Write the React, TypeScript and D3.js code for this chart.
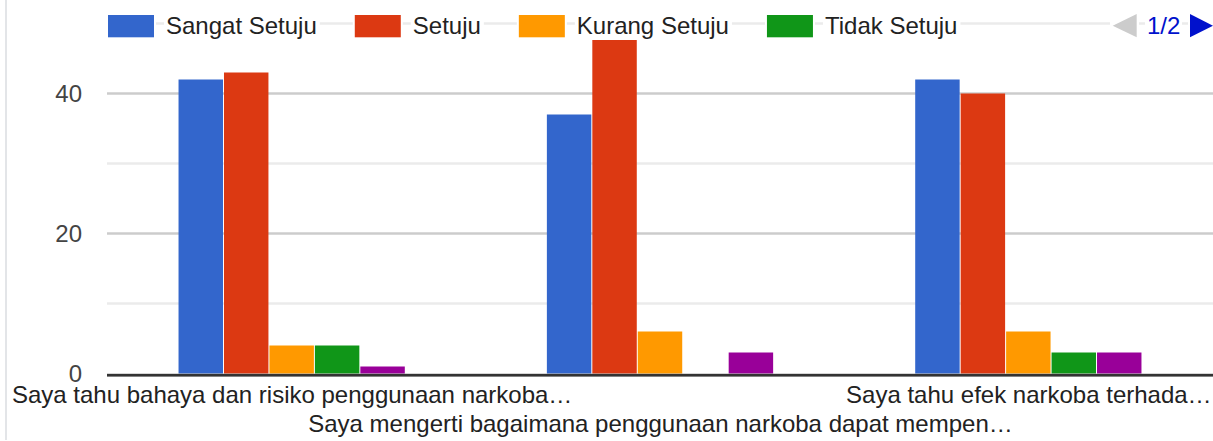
import React from "react";
import * as d3 from "d3";

const categories = [
  "Saya tahu bahaya dan risiko penggunaan narkoba…",
  "Saya mengerti bagaimana penggunaan narkoba dapat mempen…",
  "Saya tahu efek narkoba terhada…",
];
const seriesNames = ["Sangat Setuju", "Setuju", "Kurang Setuju", "Tidak Setuju", "Sangat Tidak Setuju"];
const seriesColors = ["#3366cc", "#dc3912", "#ff9900", "#109618", "#990099"];
const sangatSetuju = [42, 37, 42];
const setuju = [43, 48, 40];
const kurangSetuju = [4, 6, 6];
const tidakSetuju = [4, 0, 3];
const sangatTidakSetuju = [1, 3, 3];
const majorTicks = [0, 20, 40];
const minorTicks = [10, 30, 50];
const legendShown = 4;
const pagerLabel = "1/2";

const W = 1213;
const H = 441;
const FONT = "'Liberation Sans', Arial, sans-serif";
const FS = 24;

function measure(text: string): number {
  const c = document.createElement("canvas");
  const ctx = c.getContext("2d")!;
  ctx.font = `${FS}px ${FONT}`;
  return ctx.measureText(text).width;
}

export default function App() {
  const series = [sangatSetuju, setuju, kurangSetuju, tidakSetuju, sangatTidakSetuju];
  const y = d3.scaleLinear().domain([0, 50]).range([373.5, 23.5]);
  const x0 = d3.scaleBand<string>().domain(categories).range([108, 1213]).padding(0);
  const groupW = x0.bandwidth() * 0.617;
  const x1 = d3
    .scaleBand<number>()
    .domain(series.map((_, i) => i))
    .range([0, groupW])
    .padding(0);

  // legend layout
  const legendItems: { sx: number; tx: number; tw: number; name: string; color: string }[] = [];
  let cx = 108;
  for (let i = 0; i < legendShown; i++) {
    const tw = measure(seriesNames[i]);
    legendItems.push({ sx: cx, tx: cx + 58, tw, name: seriesNames[i], color: seriesColors[i] });
    cx = cx + 58 + tw + 38;
  }

  return (
    <svg
      width={W}
      height={H}
      style={{ position: "fixed", left: 0, top: 0, background: "#fff" }}
      fontFamily={FONT}
    >
      <rect x={0} y={0} width={W} height={H} fill="#fff" />
      <line x1={6} x2={6} y1={0} y2={440} stroke="#dadce0" strokeWidth={1.5} />
      {minorTicks.map((t) => (
        <line key={"m" + t} x1={107} x2={W} y1={y(t)} y2={y(t)} stroke="#ebebeb" strokeWidth={2.7} />
      ))}
      {majorTicks
        .filter((t) => t !== 0)
        .map((t) => (
          <line key={"g" + t} x1={107} x2={W} y1={y(t)} y2={y(t)} stroke="#cccccc" strokeWidth={2.7} />
        ))}
      {majorTicks.map((t) => (
        <text key={"t" + t} x={82} y={y(t) + 8.6} textAnchor="end" fontSize={FS} fill="#444">
          {t}
        </text>
      ))}
      {categories.map((c, ci) =>
        series.map((s, si) => {
          const v = s[ci];
          if (v <= 0) return null;
          const bx = (x0(c) as number) + (x0.bandwidth() - groupW) / 2 + (x1(si) as number);
          return (
            <rect
              key={ci + "-" + si}
              x={bx}
              y={y(v)}
              width={x1.bandwidth() - 1}
              height={y(0) - y(v)}
              fill={seriesColors[si]}
            />
          );
        })
      )}
      <rect x={107} y={373.8} width={W - 107} height={2.8} fill="#333" />
      {categories.map((c, ci) => (
        <text
          key={"c" + ci}
          x={(x0(c) as number) + x0.bandwidth() / 2}
          y={ci % 2 === 0 ? 403 : 432}
          textAnchor="middle"
          fontSize={FS}
          fill="#222"
        >
          {c}
        </text>
      ))}
      {legendItems.map((it, i) => (
        <g key={"l" + i}>
          <rect x={it.sx - 2} y={13} width={50} height={26} fill="#fff" />
          <rect x={it.tx - 2} y={10} width={it.tw + 5} height={30} fill="#fff" />
          <rect x={it.sx} y={15} width={46} height={22.3} fill={it.color} />
          <text x={it.tx} y={34.3} fontSize={FS} fill="#222">
            {it.name}
          </text>
        </g>
      ))}
      <rect x={1110} y={12} width={29} height={28} fill="#fff" />
      <polygon points="1112.7,25.7 1136.7,14 1136.7,37.3" fill="#cccccc" />
      <rect x={1145} y={10} width={37} height={30} fill="#fff" />
      <text x={1147} y={34.3} fontSize={FS} fill="#0011cc">
        {pagerLabel}
      </text>
      <rect x={1188} y={12} width={25} height={28} fill="#fff" />
      <polygon points="1190,14 1190,37.3 1213,25.7" fill="#0011cc" />
    </svg>
  );
}
